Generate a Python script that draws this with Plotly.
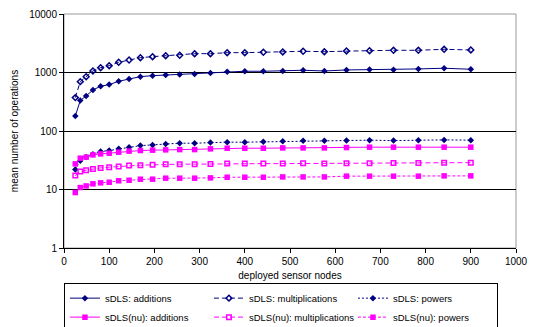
import plotly.graph_objects as go

# deployed sensor nodes (n^2 for n = 5..30)
nodes = [25, 36, 49, 64, 81, 100, 121, 144, 169, 196, 225, 256, 289, 324, 361,
         400, 441, 484, 529, 576, 625, 676, 729, 784, 841, 900]

sdls_add = [181, 331, 398, 504, 582, 621, 708, 776, 850, 883, 908, 920, 944, 985,
            1035, 1050, 1050, 1062, 1092, 1062, 1106, 1120, 1119, 1151, 1183, 1135]
sdls_mult = [372, 698, 849, 1063, 1211, 1310, 1496, 1637, 1793, 1866, 1941, 1972, 2100,
             2100, 2183, 2183, 2218, 2245, 2306, 2270, 2334, 2361, 2397, 2397, 2494, 2427]
sdls_pow = [21.9, 30.9, 36.1, 40.2, 44.5, 46.3, 49.5, 52.9, 56.3, 57.9, 60.2, 61.9, 61.9,
            63.4, 64.4, 64.4, 65.2, 66.9, 67.8, 67.8, 68.6, 69.7, 68.6, 69.7, 70.5, 69.7]
nu_add = [27.4, 34.3, 35.7, 39.1, 40.6, 41.7, 43.4, 45.2, 46.3, 47.0, 47.6, 48.1, 48.1,
          49.5, 50.8, 50.8, 50.8, 51.4, 51.4, 51.4, 52.1, 52.9, 52.9, 52.9, 52.9, 52.9]
nu_mult = [17.3, 20.3, 21.4, 22.5, 23.4, 24.1, 24.7, 25.7, 26.0, 26.4, 27.1, 27.1, 27.1,
           27.4, 27.7, 27.7, 27.7, 27.7, 28.0, 27.7, 28.0, 28.2, 28.4, 28.4, 28.8, 28.8]
nu_pow = [8.87, 10.8, 11.5, 12.5, 13.0, 13.3, 14.1, 14.4, 15.0, 15.0, 15.6, 15.6, 15.6,
          15.8, 16.2, 16.2, 16.2, 16.4, 16.4, 16.4, 16.9, 16.9, 16.9, 16.9, 17.1, 17.1]

series_names = ["sDLS: additions", "sDLS: multiplications", "sDLS: powers",
                "sDLS(nu): additions", "sDLS(nu): multiplications", "sDLS(nu): powers"]
x_ticks = [0, 100, 200, 300, 400, 500, 600, 700, 800, 900, 1000]
y_ticks = [1, 10, 100, 1000, 10000]
y_ticklabels = ["1", "10", "100", "1000", "10000"]

NAVY = "#000080"
MAG = "#FF00FF"

styles = [
    dict(color=NAVY, dash="solid", symbol="diamond", size=5),
    dict(color=NAVY, dash="5px,3px", symbol="diamond-open", size=4.5),
    dict(color=NAVY, dash="2px,2px", symbol="diamond", size=5),
    dict(color=MAG, dash="solid", symbol="square", size=5.5),
    dict(color=MAG, dash="5px,3px", symbol="square-open", size=4.5),
    dict(color=MAG, dash="3px,2px", symbol="square", size=5.5),
]
data = [sdls_add, sdls_mult, sdls_pow, nu_add, nu_mult, nu_pow]

fig = go.Figure()
for name, vals, st in zip(series_names, data, styles):
    marker = dict(symbol=st["symbol"], size=st["size"], color=st["color"])
    if st["symbol"].endswith("open"):
        marker["line"] = dict(color=st["color"], width=1.5)
    fig.add_trace(go.Scatter(
        x=nodes, y=vals, name=name, mode="lines+markers",
        line=dict(color=st["color"], width=1, dash=st["dash"]),
        marker=marker,
    ))

# plot-area border (grey)
fig.add_shape(type="rect", xref="paper", yref="paper", x0=0, y0=0, x1=1, y1=1,
              line=dict(color="#999999", width=1), layer="below")

font = "Liberation Sans, Arial, sans-serif"
fig.update_layout(
    width=539, height=327,
    margin=dict(l=64, r=23, t=14, b=79, autoexpand=False),
    paper_bgcolor="white", plot_bgcolor="white",
    font=dict(family=font, size=10, color="black"),
    showlegend=True,
    legend=dict(
        orientation="h", x=-0.0001, y=-0.148, xanchor="left", yanchor="top",
        entrywidth=99, entrywidthmode="pixels", itemwidth=30,
        bordercolor="black", borderwidth=1, font=dict(size=9.5),
        tracegroupgap=0,
    ),
    xaxis=dict(
        range=[0, 1000], tickvals=x_ticks, showgrid=False, zeroline=False,
        showline=True, linecolor="black", linewidth=1,
        ticks="outside", ticklen=4, tickcolor="black",
        title=dict(text="deployed sensor nodes", standoff=5, font=dict(size=10)),
    ),
    yaxis=dict(
        type="log", range=[0, 4], tickvals=y_ticks, ticktext=y_ticklabels,
        showgrid=True, gridcolor="black", gridwidth=1, zeroline=False,
        showline=True, linecolor="black", linewidth=1,
        ticks="outside", ticklen=4, tickcolor="black",
        title=dict(text="mean number of operations", standoff=8, font=dict(size=10)),
    ),
)

fig.write_html("out.html", config={"displayModeBar": False},
               post_script="document.body.style.margin='0';document.body.style.overflow='hidden';")
